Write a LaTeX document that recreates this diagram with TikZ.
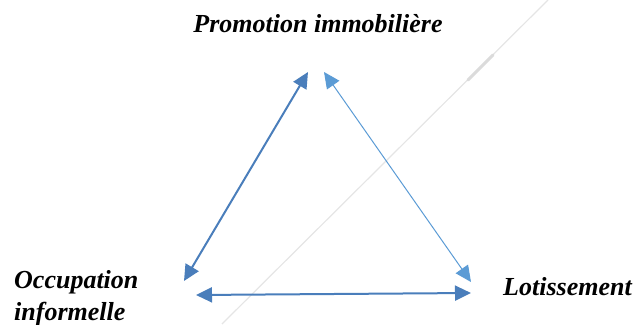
\documentclass[tikz,border=0pt]{standalone}
\usepackage{fontspec}
\setmainfont{Liberation Serif}
\usetikzlibrary{arrows.meta}

\definecolor{arrDark}{HTML}{4A7EBB}
\definecolor{arrLight}{HTML}{5B9BD5}

\begin{document}
\begin{tikzpicture}[
    x=1pt, y=-1pt,
    lbl/.style={font=\fontsize{26}{32}\selectfont\bfseries\itshape, inner sep=0pt},
    arr/.style={{Triangle[length=16pt, width=15pt]}-{Triangle[length=16pt, width=15pt]}},
    dk/.style={arr, line width=2pt, arrDark},
    lt/.style={arr, line width=1pt, arrLight},
]
\useasboundingbox (0, 0) rectangle (639, 324);

% --- faint scan line ---
\draw[line width=1.2pt, black!10] (548, 0) -- (222, 324);
\draw[line width=3pt, black!14, line cap=round] (468, 80) -- (493, 55);

% --- labels ---
\node[lbl, anchor=base] (promo) at (318, 32) {Promotion immobilière};
\node[lbl, anchor=base west] (lotis) at (503, 295) {Lotissement};
\node[lbl, anchor=base west] (occup) at (14, 288) {Occupation};
\node[lbl, anchor=base west] (infor) at (14, 320) {informelle};

% --- arrow ends ---
\coordinate (promoL) at (308, 72);
\coordinate (promoR) at (324, 72);
\coordinate (occupT) at (184, 281);
\coordinate (occupB) at (196, 295);
\coordinate (lotisT) at (471, 282);
\coordinate (lotisB) at (471, 293);

\draw[dk] (occupT) -- (promoL);
\draw[lt] (promoR) -- (lotisT);
\draw[dk] (occupB) -- (lotisB);

\end{tikzpicture}
\end{document}
